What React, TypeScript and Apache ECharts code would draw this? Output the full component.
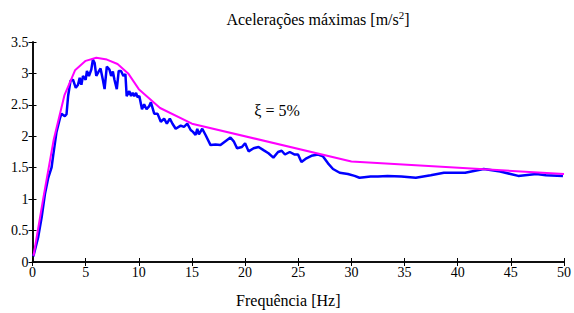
import React, { useEffect, useRef } from "react";
import * as echarts from "echarts";

const freqMeasured = [
  0.08, 0.54, 0.86, 1.17, 1.48, 1.79, 1.95, 2.26, 2.57, 2.73, 3.04, 3.2, 3.35, 3.57, 3.81, 4.07, 4.28, 4.44, 4.6, 4.75,
  5.0, 5.12, 5.31, 5.53, 5.68, 5.84, 6.0, 6.22, 6.4, 6.62, 6.78, 6.99, 7.24, 7.4, 7.56, 7.71, 7.93, 8.11, 8.33, 8.55,
  8.74, 8.86, 9.11, 9.27, 9.42, 9.58, 9.74, 9.89, 10.05, 10.3, 10.5, 10.73, 10.98, 11.14, 11.45, 11.76, 12.07, 12.38,
  12.64, 12.92, 13.17, 13.47, 13.94, 14.25, 14.56, 14.88, 15.1, 15.34, 15.5, 15.65, 15.97, 16.28, 16.75, 17.21, 17.68,
  18.15, 18.62, 18.93, 19.24, 19.7, 20.0, 20.33, 20.8, 21.27, 21.73, 22.2, 22.66, 23.1, 23.44, 23.75, 24.2, 24.67,
  24.98, 25.3, 25.77, 26.24, 26.86, 27.33, 27.8, 28.27, 28.9, 29.67, 30.3, 30.76, 31.2, 31.8, 32.5, 33.4, 34.7, 36.06,
  37.46, 38.7, 40.7, 42.45, 44.0, 45.7, 47.4, 48.3, 49.9,
];
const accMeasured = [
  0.09, 0.4, 0.71, 1.08, 1.34, 1.5, 1.7, 2.07, 2.28, 2.36, 2.32, 2.35, 2.64, 2.88, 2.9, 2.77, 2.82, 2.93, 2.82, 2.96,
  2.9, 3.04, 2.96, 3.06, 3.22, 3.17, 2.96, 3.03, 3.08, 2.9, 2.75, 3.11, 3.06, 2.96, 3.03, 2.9, 2.75, 3.04, 3.04, 2.96,
  2.99, 2.64, 2.72, 2.64, 2.69, 2.64, 2.69, 2.62, 2.64, 2.43, 2.51, 2.43, 2.48, 2.54, 2.36, 2.36, 2.23, 2.28,
  2.2, 2.28, 2.2, 2.12, 2.17, 2.15, 2.2, 2.1, 2.07, 2.02, 2.12, 2.03, 2.12, 2.02, 1.86, 1.87, 1.86,
  1.92, 1.98, 1.92, 1.81, 1.83, 1.89, 1.76, 1.81, 1.83, 1.78, 1.73, 1.66, 1.75, 1.77, 1.71, 1.75, 1.71,
  1.71, 1.59, 1.65, 1.69, 1.71, 1.68, 1.57, 1.48, 1.42, 1.4, 1.37, 1.34, 1.35, 1.36, 1.36, 1.37, 1.36, 1.34,
  1.38, 1.42, 1.42, 1.48, 1.44, 1.37, 1.4, 1.38, 1.37,
];

const freqEnvelope = [0.1, 1, 2, 3, 4, 5, 6, 7, 8, 9, 10, 12, 15, 30, 50];
const accEnvelope = [0.1, 1.0, 1.95, 2.65, 3.05, 3.2, 3.25, 3.22, 3.15, 3.0, 2.75, 2.45, 2.2, 1.6, 1.4];

const xTicks = { min: 0, max: 50, interval: 5 };
const yTicks = { min: 0, max: 3.5, interval: 0.5 };

const FONT = "Times New Roman";

export default function App() {
  const ref = useRef<HTMLDivElement>(null);
  useEffect(() => {
    if (!ref.current) return;
    const chart = echarts.init(ref.current, null, { renderer: "svg" });
    const measured = freqMeasured.map((f, i) => [f, accMeasured[i]]);
    const envelope = freqEnvelope.map((f, i) => [f, accEnvelope[i]]);
    const labelStyle = { color: "#000", fontFamily: FONT, fontSize: 14 };
    const line = { show: true, lineStyle: { color: "#000", width: 1.5 } };
    const tick = { show: true, inside: true, length: 4, lineStyle: { color: "#000", width: 1 } };
    chart.setOption({
      animation: false,
      backgroundColor: "#fff",
      textStyle: { fontFamily: FONT },
      grid: { left: 32.5, right: 6.5, top: 42, bottom: 47.5, containLabel: false },
      xAxis: [
        {
          type: "value", ...xTicks, position: "bottom",
          axisLine: line, axisTick: tick, splitLine: { show: false },
          axisLabel: { ...labelStyle, margin: 3 },
          name: "Frequência [Hz]", nameLocation: "middle", nameGap: 30,
          nameTextStyle: { color: "#000", fontFamily: FONT, fontSize: 16, padding: [0, 0, 0, -20] },
        },
        {
          type: "value", ...xTicks, position: "top",
          axisLine: line, axisTick: tick, splitLine: { show: false }, axisLabel: { show: false },
        },
      ],
      yAxis: [
        {
          type: "value", ...yTicks, position: "left",
          axisLine: line, axisTick: tick, splitLine: { show: false },
          axisLabel: { ...labelStyle, margin: 4 },
        },
        {
          type: "value", ...yTicks, position: "right",
          axisLine: line, axisTick: tick, splitLine: { show: false }, axisLabel: { show: false },
        },
      ],
      graphic: [
        {
          type: "text", x: 318, y: 19,
          style: {
            text: "{a|Acelerações máximas [m/s}{b|2}{a|]}",
            align: "center", verticalAlign: "middle",
            rich: {
              a: { fontFamily: FONT, fontSize: 16, fill: "#000" },
              b: { fontFamily: FONT, fontSize: 11, fill: "#000", padding: [0, 0, 8, 0] },
            },
          },
        },
        {
          type: "text", x: 277, y: 110,
          style: {
            text: "ξ = 5%", align: "center", verticalAlign: "middle",
            fontFamily: FONT, fontSize: 16, fill: "#000",
          },
        },
      ],
      series: [
        {
          type: "line", data: measured, showSymbol: false, symbol: "none",
          lineStyle: { color: "#0000ff", width: 2.5 }, z: 2,
        },
        {
          type: "line", data: envelope, showSymbol: false, symbol: "none",
          lineStyle: { color: "#ff00ff", width: 2 }, z: 3,
        },
      ],
    });
    return () => chart.dispose();
  }, []);
  return (
    <div
      ref={ref}
      style={{ position: "fixed", left: 0, top: 0, width: 574, height: 313, background: "#fff" }}
    />
  );
}
